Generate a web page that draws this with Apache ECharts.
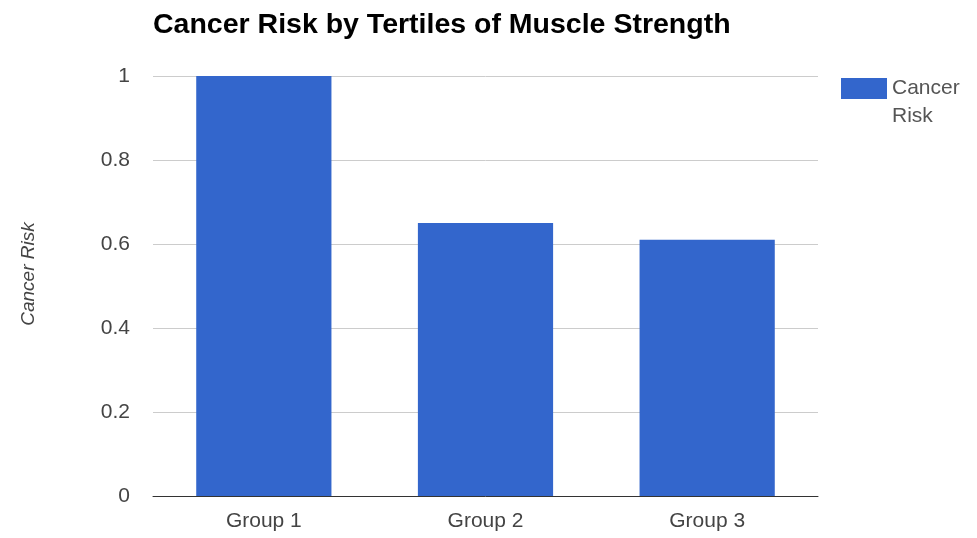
<!DOCTYPE html>
<html>
<head>
<meta charset="utf-8">
<script src="https://cdn.jsdelivr.net/npm/echarts@6/dist/echarts.min.js"></script>
<style>
  html, body { margin: 0; padding: 0; background: #fff; }
  #chart { width: 977px; height: 538px; }
</style>
</head>
<body>
<div id="chart"></div>
<script>
// Relative cancer risk by tertile of muscle strength
const categories = ['Group 1', 'Group 2', 'Group 3'];
const cancerRisk = [1, 0.65, 0.61];
const seriesName = 'Cancer Risk';
const yTicks = [0, 0.2, 0.4, 0.6, 0.8, 1];

const FONT = 'Liberation Sans, Arial, sans-serif';
const chart = echarts.init(document.getElementById('chart'), null, { renderer: 'canvas' });

chart.setOption({
  animation: false,
  backgroundColor: '#ffffff',
  title: {
    text: 'Cancer Risk by Tertiles of Muscle Strength',
    left: 153,
    top: 11,
    padding: 0,
    textStyle: {
      fontFamily: FONT,
      fontWeight: 'bold',
      fontSize: 28.5,
      color: '#000'
    }
  },
  legend: {
    data: [seriesName],
    orient: 'vertical',
    left: 841,
    top: 46.5,
    padding: 0,
    itemWidth: 46,
    itemHeight: 21,
    icon: 'rect',
    // wrap the label so its first line sits beside the swatch
    formatter: function (name) { return '\n' + name.replace(' ', '\n'); },
    textStyle: {
      fontFamily: FONT,
      fontSize: 21,
      color: '#555',
      lineHeight: 28
    }
  },
  grid: {
    left: 153,
    right: 159,
    top: 76,
    bottom: 42,
    containLabel: false
  },
  xAxis: {
    type: 'category',
    data: categories,
    axisTick: { show: false },
    axisLine: { lineStyle: { color: '#333', width: 1 } },
    axisLabel: {
      margin: 15,
      fontFamily: FONT,
      fontSize: 21,
      color: '#444'
    }
  },
  yAxis: {
    type: 'value',
    min: yTicks[0],
    max: yTicks[yTicks.length - 1],
    interval: 0.2,
    name: seriesName,
    nameLocation: 'middle',
    nameGap: 115,
    nameTextStyle: {
      fontFamily: FONT,
      fontStyle: 'italic',
      fontSize: 19,
      color: '#444',
      padding: [0, 0, 0, 24]
    },
    axisLine: { show: false },
    axisTick: { show: false },
    axisLabel: {
      margin: 23,
      fontFamily: FONT,
      fontSize: 21,
      color: '#444',
      formatter: function (v) { return String(+v.toFixed(1)); }
    },
    splitLine: { lineStyle: { color: '#cccccc', width: 1 } }
  },
  series: [{
    name: seriesName,
    type: 'bar',
    data: cancerRisk,
    barWidth: '61%',
    itemStyle: { color: '#3366cc' }
  }]
});
</script>
</body>
</html>
